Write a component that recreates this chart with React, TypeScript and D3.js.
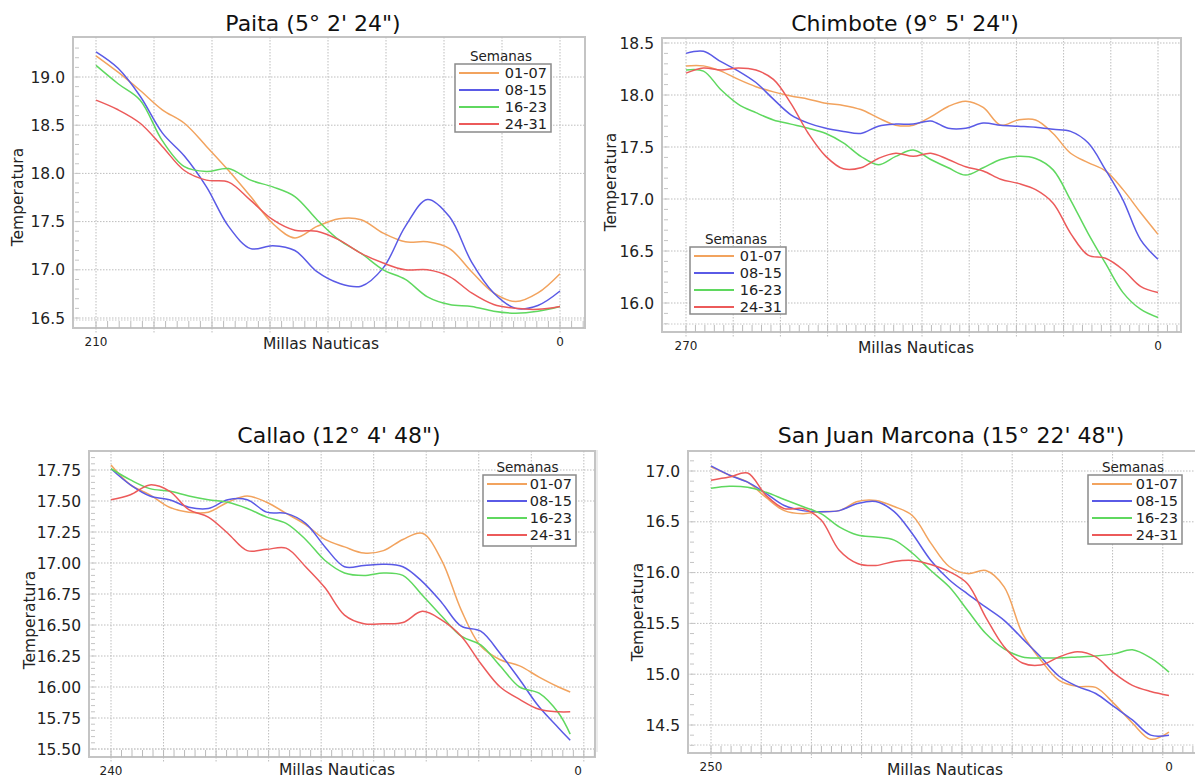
import * as d3 from 'd3'

const weeks = ['01-07', '08-15', '16-23', '24-31']
const weekColors = ['#f2a35e', '#5a5ae6', '#5fd85f', '#ec5a5a']

// Paita
const paitaMiles = [210, 200, 190, 180, 170, 160, 150, 140, 130, 120, 110, 100, 90, 80, 70, 60, 50, 40, 30, 20, 10, 0]
const paita0107 = [19.22, 19.05, 18.86, 18.66, 18.52, 18.28, 18.03, 17.76, 17.48, 17.33, 17.45, 17.53, 17.52, 17.38, 17.29, 17.29, 17.22, 16.98, 16.76, 16.67, 16.76, 16.96]
const paita0815 = [19.26, 19.09, 18.8, 18.42, 18.18, 17.86, 17.45, 17.22, 17.25, 17.2, 16.98, 16.86, 16.83, 17.02, 17.45, 17.73, 17.55, 17.08, 16.76, 16.6, 16.63, 16.78]
const paita1623 = [19.12, 18.93, 18.76, 18.34, 18.07, 18.02, 18.05, 17.93, 17.86, 17.76, 17.52, 17.31, 17.17, 17.0, 16.9, 16.72, 16.64, 16.62, 16.57, 16.55, 16.57, 16.62]
const paita2431 = [18.76, 18.66, 18.52, 18.28, 18.03, 17.93, 17.91, 17.72, 17.52, 17.41, 17.4, 17.31, 17.17, 17.07, 17.0, 17.0, 16.93, 16.76, 16.64, 16.6, 16.59, 16.62]
const paitaTicks = [16.5, 17.0, 17.5, 18.0, 18.5, 19.0]

// Chimbote
const chimMiles = [270, 260, 250, 240, 230, 220, 210, 200, 190, 180, 170, 160, 150, 140, 130, 120, 110, 100, 90, 80, 70, 60, 50, 40, 30, 20, 10, 0]
const chim0107 = [18.28, 18.28, 18.23, 18.15, 18.08, 18.03, 17.99, 17.96, 17.92, 17.9, 17.86, 17.78, 17.71, 17.71, 17.79, 17.89, 17.94, 17.88, 17.71, 17.76, 17.76, 17.63, 17.44, 17.35, 17.27, 17.09, 16.87, 16.66]
const chim0815 = [18.4, 18.42, 18.32, 18.23, 18.12, 17.96, 17.81, 17.73, 17.68, 17.65, 17.63, 17.7, 17.72, 17.72, 17.75, 17.68, 17.68, 17.73, 17.71, 17.7, 17.69, 17.67, 17.65, 17.54, 17.28, 16.99, 16.61, 16.42]
const chim1623 = [18.24, 18.23, 18.05, 17.91, 17.83, 17.76, 17.72, 17.68, 17.63, 17.54, 17.41, 17.33, 17.41, 17.47, 17.38, 17.3, 17.23, 17.3, 17.38, 17.41, 17.39, 17.28, 16.99, 16.67, 16.38, 16.1, 15.94, 15.86]
const chim2431 = [18.21, 18.26, 18.24, 18.26, 18.24, 18.15, 17.92, 17.63, 17.41, 17.29, 17.3, 17.39, 17.44, 17.41, 17.44, 17.38, 17.31, 17.27, 17.19, 17.15, 17.09, 16.96, 16.67, 16.46, 16.43, 16.32, 16.16, 16.1]
const chimTicks = [16.0, 16.5, 17.0, 17.5, 18.0, 18.5]

// Callao
const callaoMiles = [240, 230, 220, 210, 200, 190, 180, 170, 160, 150, 140, 130, 120, 110, 100, 90, 80, 70, 60, 50, 40, 30, 20, 10, 4]
const callao0107 = [17.79, 17.63, 17.55, 17.45, 17.41, 17.41, 17.49, 17.54, 17.49, 17.4, 17.31, 17.19, 17.13, 17.08, 17.1, 17.19, 17.24, 17.02, 16.62, 16.33, 16.22, 16.17, 16.08, 16.0, 15.96]
const callao0815 = [17.76, 17.63, 17.54, 17.51, 17.45, 17.44, 17.51, 17.51, 17.41, 17.4, 17.32, 17.13, 16.97, 16.98, 16.99, 16.97, 16.85, 16.68, 16.49, 16.45, 16.27, 16.06, 15.84, 15.67, 15.57]
const callao1623 = [17.76, 17.67, 17.6, 17.58, 17.54, 17.51, 17.49, 17.44, 17.37, 17.32, 17.19, 17.02, 16.92, 16.9, 16.92, 16.9, 16.74, 16.57, 16.41, 16.34, 16.17, 16.0, 15.95, 15.79, 15.62]
const callao2431 = [17.51, 17.55, 17.63, 17.58, 17.43, 17.37, 17.24, 17.1, 17.11, 17.12, 16.97, 16.8, 16.58, 16.51, 16.51, 16.52, 16.61, 16.54, 16.41, 16.19, 16.0, 15.9, 15.82, 15.8, 15.8]
const callaoTicks = [15.5, 15.75, 16.0, 16.25, 16.5, 16.75, 17.0, 17.25, 17.5, 17.75]

// San Juan Marcona
const sjmMiles = [250, 240, 230, 220, 210, 200, 190, 180, 170, 160, 150, 140, 130, 120, 110, 100, 90, 80, 70, 60, 50, 40, 30, 20, 10, 0]
const sjm0107 = [17.04, 16.96, 16.89, 16.74, 16.61, 16.58, 16.6, 16.61, 16.7, 16.71, 16.65, 16.56, 16.29, 16.06, 15.99, 16.02, 15.86, 15.4, 15.14, 14.94, 14.88, 14.87, 14.71, 14.52, 14.36, 14.43]
const sjm0815 = [17.05, 16.96, 16.89, 16.78, 16.66, 16.61, 16.6, 16.61, 16.68, 16.7, 16.6, 16.38, 16.12, 15.93, 15.79, 15.66, 15.53, 15.35, 15.17, 14.98, 14.88, 14.81, 14.68, 14.55, 14.4, 14.4]
const sjm1623 = [16.83, 16.85, 16.84, 16.79, 16.72, 16.65, 16.58, 16.45, 16.37, 16.35, 16.32, 16.19, 16.02, 15.86, 15.63, 15.4, 15.25, 15.17, 15.16, 15.16, 15.17, 15.18, 15.2, 15.24, 15.16, 15.02]
const sjm2431 = [16.91, 16.94, 16.98, 16.76, 16.63, 16.63, 16.52, 16.22, 16.09, 16.07, 16.11, 16.12, 16.08, 16.01, 15.89, 15.56, 15.27, 15.11, 15.09, 15.17, 15.22, 15.17, 15.01, 14.89, 14.83, 14.79]
const sjmTicks = [14.5, 15.0, 15.5, 16.0, 16.5, 17.0]

const panels = [
  {
    title: 'Paita (5° 2\' 24")', miles: paitaMiles, series: [paita0107, paita0815, paita1623, paita2431],
    xMax: 210, gridStep: 26.25, ticks: paitaTicks, fmt: '.1f', minor: 0.1,
    frame: [73, 37, 585, 328], xRange: [96, 560], yRange: [318, 77],
    titleAt: [313, 31], yLabelAt: [17, 197], xLabelAt: [321, 349], legend: [455, 64, 96, 68],
  },
  {
    title: 'Chimbote (9° 5\' 24")', miles: chimMiles, series: [chim0107, chim0815, chim1623, chim2431],
    xMax: 270, gridStep: 27, ticks: chimTicks, fmt: '.1f', minor: 0.1,
    frame: [662, 38, 1181, 332], xRange: [686, 1158], yRange: [303, 43],
    titleAt: [905, 31], yLabelAt: [610, 182], xLabelAt: [916, 353], legend: [690, 247, 96, 67],
  },
  {
    title: 'Callao (12° 4\' 48")', miles: callaoMiles, series: [callao0107, callao0815, callao1623, callao2431],
    xMax: 240, gridStep: 27, ticks: callaoTicks, fmt: '.2f', minor: 0.05,
    frame: [89, 451, 595, 757], xRange: [111, 578], yRange: [749, 470],
    titleAt: [339, 443], yLabelAt: [29, 620], xLabelAt: [337, 775], legend: [483, 475, 93, 71],
  },
  {
    title: 'San Juan Marcona (15° 22\' 48")', miles: sjmMiles, series: [sjm0107, sjm0815, sjm1623, sjm2431],
    xMax: 250, gridStep: 27.4, ticks: sjmTicks, fmt: '.1f', minor: 0.1,
    frame: [688, 451, 1196, 753], xRange: [711, 1169], yRange: [725, 471],
    titleAt: [951, 443], yLabelAt: [637, 612], xLabelAt: [945, 775], legend: [1088, 475, 94, 69],
  },
]

const font = 'DejaVu Sans, Verdana, sans-serif'

function Panel({ p }: { p: any }) {
  const [fx0, fy0, fx1, fy1] = p.frame
  const x = d3.scaleLinear().domain([p.xMax, 0]).range(p.xRange)
  const y = d3.scaleLinear().domain([p.ticks[0], p.ticks[p.ticks.length - 1]]).range(p.yRange)
  const line = d3
    .line<[number, number]>()
    .x((d) => x(d[0]))
    .y((d) => y(d[1]))
    .curve(d3.curveCatmullRom.alpha(0.5))

  const endMile = x.invert(fx1)
  const vGrid = d3.range(p.xMax, endMile, -p.gridStep)
  const xMinor = d3.range(p.xMax, endMile, -p.gridStep / 5)
  const yMinor = d3
    .range(p.ticks[0] - 10 * p.minor, y.invert(fy0), p.minor)
    .filter((v) => y(v) < fy1 - 2 && y(v) > fy0 + 2)
  const fmt = d3.format(p.fmt)
  const [lx, ly, lw, lh] = p.legend

  return (
    <g>
      <text x={p.titleAt[0]} y={p.titleAt[1]} textAnchor="middle" fontSize={22} fill="#111">
        {p.title}
      </text>
      <rect x={fx0} y={fy0} width={fx1 - fx0} height={fy1 - fy0} fill="#fff" stroke="#c4c4c4" strokeWidth={2} />
      {p.ticks.map((t: number) => (
        <line key={'h' + t} x1={fx0} x2={fx1} y1={y(t)} y2={y(t)} stroke="#bdbdbd" strokeDasharray="1.5,1.5" />
      ))}
      {vGrid.map((m: number) => (
        <line key={'v' + m} x1={x(m)} x2={x(m)} y1={fy0} y2={fy1 + 5} stroke="#bdbdbd" strokeDasharray="1.5,1.5" />
      ))}
      <line x1={fx0} x2={fx1} y1={fy1 - 8} y2={fy1 - 8} stroke="#c8c8c8" strokeDasharray="1.5,1.5" />
      {xMinor.map((m: number) => (
        <line key={'xm' + m} x1={x(m)} x2={x(m)} y1={fy1 - 7} y2={fy1} stroke="#bbb" />
      ))}
      {yMinor.map((v: number) => (
        <line key={'ym' + v} x1={fx0 + 2} x2={fx0 + 6} y1={y(v)} y2={y(v)} stroke="#c4c4c4" />
      ))}
      {p.series.map((vals: number[], i: number) => (
        <path
          key={i}
          d={line(p.miles.map((m: number, j: number) => [m, vals[j]] as [number, number])) || ''}
          fill="none"
          stroke={weekColors[i]}
          strokeWidth={1.5}
        />
      ))}
      {p.ticks.map((t: number) => (
        <text key={'t' + t} x={fx0 - 8} y={y(t)} dy="0.36em" textAnchor="end" fontSize={15.5} fill="#222">
          {fmt(t)}
        </text>
      ))}
      <text x={x(p.xMax)} y={fy1 + 18} textAnchor="middle" fontSize={12} fill="#222">
        {p.xMax}
      </text>
      <text x={x(0)} y={fy1 + 18} textAnchor="middle" fontSize={12} fill="#222">
        0
      </text>
      <text x={p.xLabelAt[0]} y={p.xLabelAt[1]} textAnchor="middle" fontSize={15.5} fill="#222">
        Millas Nauticas
      </text>
      <text
        transform={`translate(${p.yLabelAt[0]},${p.yLabelAt[1]}) rotate(-90)`}
        dy="0.36em"
        textAnchor="middle"
        fontSize={15.5}
        fill="#222"
      >
        Temperatura
      </text>
      <text x={lx + lw / 2 - 2} y={ly - 3} textAnchor="middle" fontSize={13.5} fill="#222">
        Semanas
      </text>
      <rect x={lx} y={ly} width={lw} height={lh} fill="#fff" stroke="#8a8a8a" strokeWidth={1.5} />
      {weeks.map((w, i) => (
        <g key={w}>
          <line x1={lx + 4} x2={lx + 44} y1={ly + 9 + i * 17} y2={ly + 9 + i * 17} stroke={weekColors[i]} strokeWidth={2} />
          <text x={lx + lw - 4} y={ly + 9 + i * 17} dy="0.36em" textAnchor="end" fontSize={14.5} fill="#222">
            {w}
          </text>
        </g>
      ))}
    </g>
  )
}

export default function App() {
  return (
    <svg
      width={1195}
      height={778}
      style={{ position: 'absolute', left: 0, top: 0, background: '#fff', fontFamily: font }}
    >
      <line x1={597} x2={597} y1={450} y2={752} stroke="#d8d8d8" />
      {panels.map((p) => (
        <Panel key={p.title} p={p} />
      ))}
    </svg>
  )
}
